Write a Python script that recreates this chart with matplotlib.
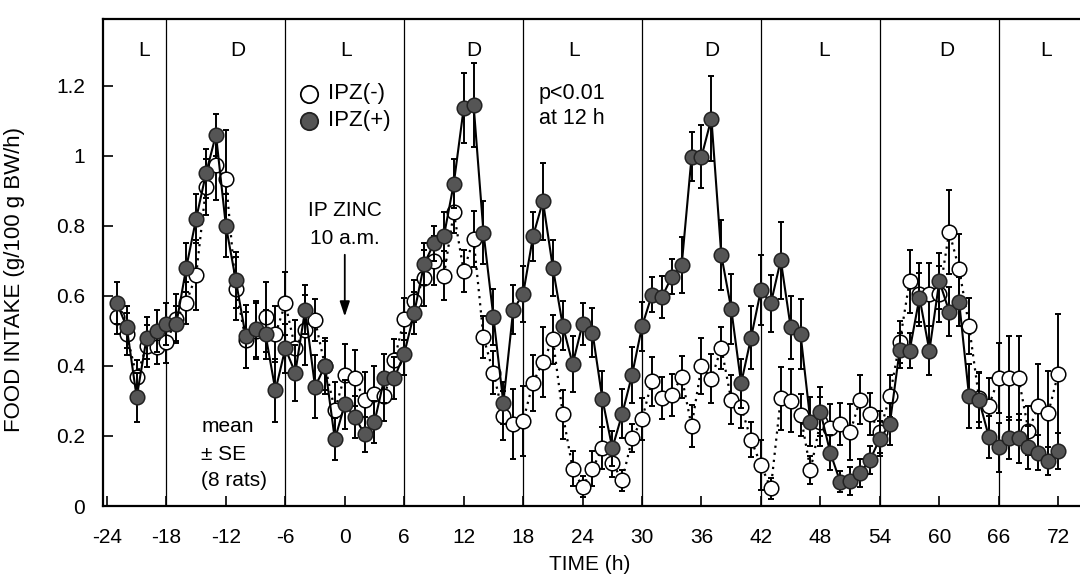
import numpy as np
import matplotlib
matplotlib.use("Agg")
import matplotlib.pyplot as plt

plt.rcParams['font.family'] = ['Liberation Sans', 'DejaVu Sans']

# hourly time points (h from zinc injection)
hours = list(range(-23, 73))

# IPZ(+) : zinc-injected rats, mean food intake (g/100 g BW/h)
ipz_plus = [
    0.58, 0.51, 0.31, 0.48, 0.50, 0.52, 0.52, 0.68, 0.82, 0.95,
    1.06, 0.80, 0.645, 0.485, 0.505, 0.49, 0.33, 0.45, 0.38, 0.56,
    0.34, 0.40, 0.19, 0.29, 0.255, 0.205, 0.24, 0.365, 0.365, 0.435,
    0.55, 0.69, 0.75, 0.77, 0.92, 1.135, 1.145, 0.78, 0.54, 0.295,
    0.56, 0.605, 0.77, 0.87, 0.68, 0.515, 0.405, 0.52, 0.495, 0.305,
    0.165, 0.263, 0.375, 0.513, 0.603, 0.596, 0.654, 0.687, 0.997, 0.997,
    1.106, 0.716, 0.563, 0.35, 0.48, 0.617, 0.578, 0.702, 0.51, 0.49,
    0.24, 0.269, 0.152, 0.069, 0.072, 0.095, 0.131, 0.192, 0.233, 0.445,
    0.443, 0.595, 0.443, 0.642, 0.555, 0.583, 0.314, 0.303, 0.198, 0.167,
    0.193, 0.193, 0.167, 0.152, 0.129, 0.157,
]
ipz_plus_se = [
    0.06, 0.06, 0.07, 0.06, 0.06, 0.06, 0.05, 0.07, 0.07, 0.07,
    0.06, 0.09, 0.08, 0.09, 0.08, 0.07, 0.09, 0.07, 0.08, 0.07,
    0.09, 0.08, 0.06, 0.07, 0.06, 0.05, 0.06, 0.07, 0.06, 0.06,
    0.06, 0.06, 0.05, 0.07, 0.07, 0.10, 0.12, 0.09, 0.08, 0.06,
    0.07, 0.08, 0.07, 0.11, 0.08, 0.07, 0.08, 0.06, 0.07, 0.08,
    0.05, 0.07, 0.08, 0.07, 0.05, 0.06, 0.05, 0.08, 0.07, 0.09,
    0.12, 0.10, 0.10, 0.07, 0.09, 0.10, 0.08, 0.11, 0.09, 0.10,
    0.07, 0.07, 0.05, 0.03, 0.04, 0.04, 0.04, 0.05, 0.06, 0.05,
    0.05, 0.07, 0.07, 0.08, 0.07, 0.07, 0.09, 0.08, 0.06, 0.07,
    0.06, 0.07, 0.06, 0.05, 0.04, 0.05,
]

# IPZ(-) : control rats
ipz_minus = [
    0.54, 0.49, 0.368, 0.458, 0.455, 0.468, 0.535, 0.58, 0.66, 0.91,
    0.972, 0.933, 0.62, 0.475, 0.50, 0.54, 0.49, 0.578, 0.45, 0.503,
    0.53, 0.40, 0.273, 0.373, 0.364, 0.302, 0.321, 0.313, 0.416, 0.535,
    0.585, 0.65, 0.70, 0.657, 0.838, 0.671, 0.762, 0.481, 0.381, 0.257,
    0.233, 0.243, 0.352, 0.412, 0.476, 0.262, 0.106, 0.055, 0.106, 0.166,
    0.124, 0.073, 0.194, 0.247, 0.356, 0.308, 0.318, 0.369, 0.228, 0.399,
    0.363, 0.452, 0.303, 0.283, 0.189, 0.117, 0.05, 0.308, 0.30, 0.26,
    0.102, 0.24, 0.222, 0.233, 0.21, 0.303, 0.262, 0.212, 0.313, 0.467,
    0.642, 0.604, 0.604, 0.604, 0.783, 0.676, 0.515, 0.309, 0.286, 0.366,
    0.366, 0.366, 0.215, 0.286, 0.266, 0.378,
]
ipz_minus_se = [
    0.05, 0.06, 0.05, 0.06, 0.05, 0.06, 0.07, 0.06, 0.10, 0.08,
    0.10, 0.14, 0.09, 0.08, 0.08, 0.10, 0.08, 0.09, 0.08, 0.10,
    0.06, 0.07, 0.08, 0.09, 0.08, 0.08, 0.08, 0.07, 0.06, 0.06,
    0.06, 0.08, 0.07, 0.07, 0.06, 0.06, 0.08, 0.06, 0.06, 0.07,
    0.10, 0.10, 0.08, 0.10, 0.07, 0.07, 0.05, 0.03, 0.05, 0.06,
    0.04, 0.03, 0.04, 0.06, 0.07, 0.06, 0.06, 0.06, 0.06, 0.08,
    0.07, 0.06, 0.07, 0.06, 0.05, 0.07, 0.03, 0.09, 0.09, 0.06,
    0.04, 0.07, 0.07, 0.06, 0.08, 0.07, 0.06, 0.06, 0.06, 0.06,
    0.09, 0.09, 0.09, 0.08, 0.12, 0.10, 0.08, 0.07, 0.08, 0.10,
    0.12, 0.12, 0.07, 0.12, 0.12, 0.17,
]

# light/dark phase boundaries and phase labels
phase_edges = [-18, -6, 6, 18, 30, 42, 54, 66]
phase_labels = ['L', 'D', 'L', 'D', 'L', 'D', 'L', 'D', 'L']
phase_label_x = [-20.3, -10.8, 0.1, 13.0, 23.1, 37.0, 48.4, 60.8, 70.8]

x_ticks = list(range(-24, 73, 6))
y_ticks = [0, 0.2, 0.4, 0.6, 0.8, 1.0, 1.2]
y_tick_labels = ['0', '0.2', '0.4', '0.6', '0.8', '1', '1.2']

FS = 15

fig = plt.figure(figsize=(10.8, 5.82), dpi=100)
ax = fig.add_axes([103 / 1080, 76 / 582, 1 - 103 / 1080, 487 / 582])
ax.set_xlim(-24.4, 74.2)
ax.set_ylim(0, 1.39)

for xe in phase_edges:
    ax.axvline(xe, color='black', lw=0.9, zorder=1)

for lab, xl in zip(phase_labels, phase_label_x):
    ax.text(xl, 1.30, lab, ha='center', va='center', fontsize=FS)

# control series: open circles, dotted line
ax.errorbar(hours, ipz_minus, yerr=ipz_minus_se, fmt='none', ecolor='black',
            elinewidth=1.4, capsize=2.5, capthick=1.4, zorder=2)
ax.plot(hours, ipz_minus, color='black', lw=1.6, ls=(0, (1, 2.2)), zorder=3)
ax.plot(hours, ipz_minus, ls='none', marker='o', ms=10.5, mfc='white',
        mec='black', mew=1.1, zorder=4)

# zinc series: filled circles, solid line
ax.errorbar(hours, ipz_plus, yerr=ipz_plus_se, fmt='none', ecolor='black',
            elinewidth=1.4, capsize=2.5, capthick=1.4, zorder=5)
ax.plot(hours, ipz_plus, color='black', lw=1.5, zorder=6)
ax.plot(hours, ipz_plus, ls='none', marker='o', ms=10.5, mfc='#555555',
        mec='#222222', mew=1.1, zorder=7)

# legend drawn as markers with text
ax.plot([-3.6], [1.176], ls='none', marker='o', ms=12.5, mfc='white',
        mec='black', mew=1.3, clip_on=False, zorder=8)
ax.plot([-3.6], [1.10], ls='none', marker='o', ms=12.5, mfc='#555555',
        mec='#222222', mew=1.3, clip_on=False, zorder=8)
ax.text(-1.7, 1.176, 'IPZ(-)', ha='left', va='center', fontsize=FS + 1)
ax.text(-1.7, 1.10, 'IPZ(+)', ha='left', va='center', fontsize=FS + 1)

# injection marker
ax.text(0, 0.843, 'IP ZINC', ha='center', va='center', fontsize=FS)
ax.text(0, 0.763, '10 a.m.', ha='center', va='center', fontsize=FS)
ax.annotate('', xy=(0, 0.533), xytext=(0, 0.725),
            arrowprops=dict(arrowstyle='-|>,head_length=0.9,head_width=0.3',
                            color='black', lw=1.3))

ax.text(19.6, 1.177, 'p<0.01', ha='left', va='center', fontsize=FS + 0.5)
ax.text(19.6, 1.106, 'at 12 h', ha='left', va='center', fontsize=FS + 0.5)

ax.text(-14.5, 0.226, 'mean', ha='left', va='center', fontsize=FS)
ax.text(-14.5, 0.148, '\u00b1 SE', ha='left', va='center', fontsize=FS)
ax.text(-14.5, 0.074, '(8 rats)', ha='left', va='center', fontsize=FS)

ax.set_xticks(x_ticks)
ax.set_xticklabels([str(v) for v in x_ticks])
ax.set_yticks(y_ticks)
ax.set_yticklabels(y_tick_labels)
ax.tick_params(axis='x', direction='in', length=7, width=1.2, pad=16, labelsize=FS)
ax.tick_params(axis='y', direction='in', length=7, width=1.2, pad=13, labelsize=FS)

for side in ('left', 'bottom', 'top'):
    ax.spines[side].set_linewidth(1.6)
ax.spines['right'].set_visible(False)

fig.text(590 / 1080, 1 - 565 / 582, 'TIME (h)', ha='center', va='center', fontsize=FS)
fig.text(15 / 1080, 1 - 279 / 582, 'FOOD INTAKE (g/100 g BW/h)', ha='center',
         va='center', rotation=90, fontsize=FS + 1)

fig.savefig('out.png', dpi=100)
